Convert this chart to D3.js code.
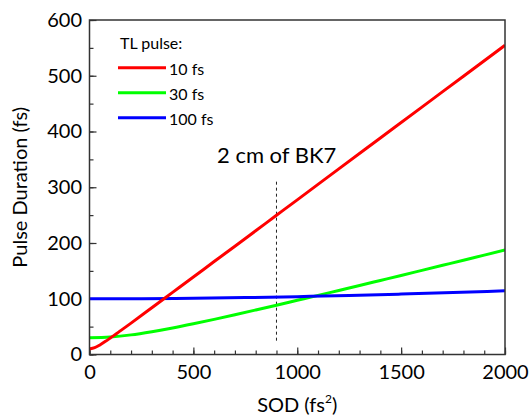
<!DOCTYPE html>
<html>
<head>
<meta charset="utf-8">
<script src="https://cdn.jsdelivr.net/npm/d3@7"></script>
<style>
  body { margin: 0; background: #fff; }
  svg { display: block; font-family: Lato, 'Open Sans', sans-serif; }
</style>
</head>
<body>
<div class="container"></div>
<script>
// SOD values (fs^2) and pulse durations (fs)
const sodRed = [0, 25, 50, 75, 100, 150, 200, 300, 400, 500, 600, 700, 800, 900, 1000, 1200, 1400, 1600, 1800, 2000]
const red10 = [10, 12.2, 17.1, 23.1, 29.5, 42.8, 56.3, 83.8, 111.4, 139.0, 166.7, 194.3, 222.0, 249.7, 277.4, 332.9, 388.3, 443.7, 499.2, 554.6]

const sodGreen = [0, 100, 200, 300, 400, 500, 600, 700, 800, 900, 1000, 1100, 1200, 1300, 1400, 1500, 1600, 1700, 1800, 1900, 2000]
const green30 = [30, 31.4, 35.2, 40.9, 47.6, 55.1, 63.0, 71.3, 79.8, 88.4, 97.2, 106.0, 114.9, 123.8, 132.8, 141.8, 150.9, 160.0, 169.1, 178.3, 187.3]

const sodBlue = [0, 250, 500, 750, 1000, 1250, 1500, 1750, 2000]
const blue100 = [100, 100.2, 101.0, 102.1, 103.8, 105.8, 108.3, 111.2, 114.3]

const seriesNames = ['10 fs', '30 fs', '100 fs']
const seriesColors = ['#ff0000', '#00ff00', '#0000ff']
const xTicks = [0, 500, 1000, 1500, 2000]
const yTicks = [0, 100, 200, 300, 400, 500, 600]
const bk7Sod = 900

const w = 531
const h = 416
const margin = { left: 89.5, right: 26, top: 20, bottom: 61.5 }

const svg = d3.select('.container')
  .append('svg')
  .attr('width', w)
  .attr('height', h)

const xScale = d3.scaleLinear()
  .domain([0, 2000])
  .range([margin.left, w - margin.right])

const yScale = d3.scaleLinear()
  .domain([0, 600])
  .range([h - margin.bottom, margin.top])

const axisColor = '#333'
const fmt = d3.format('d')

// minor ticks
svg.append('g')
  .attr('transform', `translate(0, ${h - margin.bottom})`)
  .call(d3.axisBottom(xScale).tickValues(d3.range(0, 2001, 100)).tickSize(-4).tickFormat(''))
  .call(g => g.select('.domain').remove())
  .selectAll('line').attr('stroke', axisColor).attr('stroke-width', 1.2)

svg.append('g')
  .attr('transform', `translate(${margin.left}, 0)`)
  .call(d3.axisLeft(yScale).tickValues(d3.range(0, 601, 50)).tickSize(-4).tickFormat(''))
  .call(g => g.select('.domain').remove())
  .selectAll('line').attr('stroke', axisColor).attr('stroke-width', 1.2)

// major ticks + labels
const xAxis = svg.append('g')
  .attr('transform', `translate(0, ${h - margin.bottom})`)
  .call(d3.axisBottom(xScale).tickValues(xTicks).tickFormat(fmt).tickSize(-7).tickPadding(10).tickSizeOuter(0))
xAxis.selectAll('text').attr('font-size', 20).attr('fill', '#000').attr('font-family', 'Lato')
xAxis.selectAll('line').attr('stroke', axisColor).attr('stroke-width', 1.2)
xAxis.select('.domain').remove()

const yAxis = svg.append('g')
  .attr('transform', `translate(${margin.left}, 0)`)
  .call(d3.axisLeft(yScale).tickValues(yTicks).tickFormat(fmt).tickSize(-7).tickPadding(7.5).tickSizeOuter(0))
yAxis.selectAll('text').attr('font-size', 20).attr('fill', '#000').attr('font-family', 'Lato')
yAxis.selectAll('line').attr('stroke', axisColor).attr('stroke-width', 1.2)
yAxis.select('.domain').remove()

// dashed marker for 2 cm of BK7
svg.append('line')
  .attr('x1', xScale(bk7Sod))
  .attr('x2', xScale(bk7Sod))
  .attr('y1', yScale(310))
  .attr('y2', yScale(20))
  .attr('stroke', '#222')
  .attr('stroke-width', 1)
  .attr('stroke-dasharray', '3,3')

svg.append('text')
  .text('2 cm of BK7')
  .attr('x', 217)
  .attr('y', 163)
  .attr('font-size', 22)

// curves
const line = d3.line()
  .x(d => xScale(d[0]))
  .y(d => yScale(d[1]))
  .curve(d3.curveMonotoneX)

const series = [
  d3.zip(sodRed, red10),
  d3.zip(sodGreen, green30),
  d3.zip(sodBlue, blue100)
]

svg.append('defs').append('clipPath')
  .attr('id', 'clip')
  .append('rect')
  .attr('x', margin.left)
  .attr('y', margin.top)
  .attr('width', w - margin.left - margin.right)
  .attr('height', h - margin.top - margin.bottom)

svg.append('g')
  .attr('clip-path', 'url(#clip)')
  .selectAll('path')
  .data([series[1], series[2], series[0]])
  .enter()
  .append('path')
  .attr('d', line)
  .attr('fill', 'none')
  .attr('stroke', (d, i) => [seriesColors[1], seriesColors[2], seriesColors[0]][i])
  .attr('stroke-width', 3)

// frame
svg.append('rect')
  .attr('x', margin.left)
  .attr('y', margin.top)
  .attr('width', w - margin.left - margin.right)
  .attr('height', h - margin.top - margin.bottom)
  .attr('fill', 'none')
  .attr('stroke', axisColor)
  .attr('stroke-width', 1.5)

// legend
const legend = svg.append('g')
legend.append('text')
  .text('TL pulse:')
  .attr('x', 120)
  .attr('y', 49)
  .attr('font-size', 16)

seriesNames.forEach((name, i) => {
  const y = 67.7 + i * 25
  legend.append('line')
    .attr('x1', 118).attr('x2', 166)
    .attr('y1', y).attr('y2', y)
    .attr('stroke', seriesColors[i])
    .attr('stroke-width', 3)
  legend.append('text')
    .text(name)
    .attr('x', 169)
    .attr('y', y + 7.3)
    .attr('font-size', 16)
})

// axis titles
svg.append('text')
  .attr('x', (margin.left + w - margin.right) / 2)
  .attr('y', 412)
  .attr('text-anchor', 'middle')
  .attr('font-size', 20)
  .text('SOD (fs')
  .append('tspan')
  .attr('font-size', 12)
  .attr('dy', -9)
  .text('2')
  .append('tspan')
  .attr('font-size', 20)
  .attr('dy', 9)
  .text(')')

svg.append('text')
  .attr('transform', `translate(27, ${(margin.top + h - margin.bottom) / 2}) rotate(-90)`)
  .attr('text-anchor', 'middle')
  .attr('font-size', 20)
  .text('Pulse Duration (fs)')
</script>
</body>
</html>
